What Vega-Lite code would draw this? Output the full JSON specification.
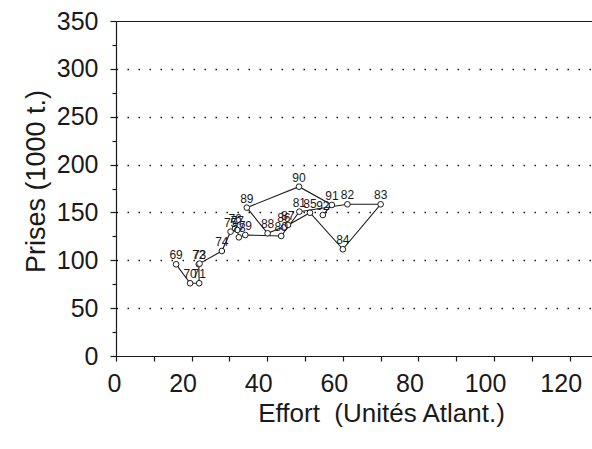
{
  "$schema": "https://vega.github.io/schema/vega-lite/v6.json",
  "width": 476,
  "height": 335,
  "autosize": {"type": "none"},
  "padding": {"left": 116, "top": 21, "right": 0, "bottom": 93},
  "background": "white",
  "config": {
    "view": {"stroke": null},
    "font": "Liberation Sans",
    "axis": {"labelColor": "#1a1a1a", "titleColor": "#1a1a1a", "domainColor": "#1a1a1a", "tickColor": "#1a1a1a", "domainWidth": 1.2, "tickWidth": 1.2, "labelFont": "Liberation Sans", "titleFont": "Liberation Sans", "titleFontWeight": "normal"}
  },
  "data": {
    "values": [
      {"year": 69, "label": "69", "effort": 15.9, "catch": 95.8},
      {"year": 70, "label": "70", "effort": 19.6, "catch": 76.0},
      {"year": 71, "label": "71", "effort": 22.0, "catch": 76.0},
      {"year": 72, "label": "72", "effort": 21.9, "catch": 95.8},
      {"year": 73, "label": "73", "effort": 22.1, "catch": 96.5},
      {"year": 74, "label": "74", "effort": 28.0, "catch": 109.7},
      {"year": 75, "label": "75", "effort": 30.3, "catch": 129.9},
      {"year": 76, "label": "76", "effort": 31.5, "catch": 133.4},
      {"year": 77, "label": "77", "effort": 32.1, "catch": 131.7},
      {"year": 78, "label": "78", "effort": 32.5, "catch": 124.0},
      {"year": 79, "label": "79", "effort": 34.2, "catch": 126.4},
      {"year": 80, "label": "80", "effort": 43.7, "catch": 125.4},
      {"year": 81, "label": "81", "effort": 48.5, "catch": 150.8},
      {"year": 82, "label": "82", "effort": 61.2, "catch": 158.5},
      {"year": 83, "label": "83", "effort": 70.0, "catch": 158.5},
      {"year": 84, "label": "84", "effort": 60.0, "catch": 111.5},
      {"year": 85, "label": "85", "effort": 51.3, "catch": 149.7},
      {"year": 86, "label": "86", "effort": 44.4, "catch": 134.3},
      {"year": 87, "label": "87", "effort": 45.5, "catch": 136.9},
      {"year": 88, "label": "88", "effort": 40.1, "catch": 128.2},
      {"year": 89, "label": "89", "effort": 34.6, "catch": 155.0},
      {"year": 90, "label": "90", "effort": 48.4, "catch": 176.9},
      {"year": 91, "label": "91", "effort": 57.1, "catch": 157.8},
      {"year": 92, "label": "92", "effort": 54.7, "catch": 147.3}
    ]
  },
  "encoding": {
    "x": {
      "field": "effort", "type": "quantitative",
      "scale": {"domain": [0, 125.9], "nice": false, "zero": true},
      "axis": {
        "values": [0, 10, 20, 30, 40, 50, 60, 70, 80, 90, 100, 110, 120],
        "labelExpr": "datum.value % 20 === 0 ? datum.label : ''",
        "grid": false,
        "tickSize": 5,
        "labelPadding": 10,
        "labelOffset": -9,
        "labelFontSize": 25,
        "title": "Effort \u00a0(Unités Atlant.)",
        "titleFontSize": 26,
        "titlePadding": 4,
        "titleX": 265,
        "titleAlign": "center"
      }
    },
    "y": {
      "field": "catch", "type": "quantitative",
      "scale": {"domain": [0, 350], "nice": false},
      "axis": {
        "values": [0, 25, 50, 75, 100, 125, 150, 175, 200, 225, 250, 275, 300, 325, 350],
        "labelExpr": "datum.value % 50 === 0 ? datum.label : ''",
        "grid": true,
        "gridColor": "#1a1a1a",
        "gridWidth": {"condition": {"test": "datum.value === 350", "value": 1.2}, "value": 1.5},
        "gridDash": {"condition": {"test": "datum.value === 350", "value": []}, "value": [1.5, 9.5]},
        "gridOpacity": {"condition": {"test": "datum.value % 50 === 0 && datum.value > 0", "value": 1}, "value": 0},
        "tickSize": {"condition": {"test": "datum.value % 50 === 0", "value": 6}, "value": 4},
        "labelPadding": 12,
        "labelFontSize": 25,
        "title": "Prises (1000 t.)",
        "titleFontSize": 27,
        "titlePadding": 6,
        "titleY": 160
      }
    }
  },
  "layer": [
    {
      "mark": {"type": "line", "color": "#1a1a1a", "strokeWidth": 1.1},
      "encoding": {"order": {"field": "year", "type": "quantitative"}}
    },
    {
      "mark": {"type": "point", "shape": "circle", "filled": true, "fill": "white", "stroke": "#1a1a1a", "strokeWidth": 1, "size": 32, "opacity": 1}
    },
    {
      "mark": {"type": "text", "fontSize": 12, "color": "#1a1a1a", "dy": -5, "baseline": "alphabetic", "align": "center", "font": "Liberation Sans"},
      "encoding": {"text": {"field": "label"}}
    }
  ]
}
